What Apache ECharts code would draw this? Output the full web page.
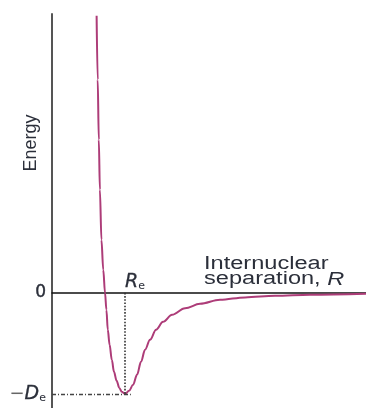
<!DOCTYPE html>
<html>
<head>
<meta charset="utf-8">
<script src="https://cdn.jsdelivr.net/npm/echarts@6/dist/echarts.min.js"></script>
<style>html,body{margin:0;padding:0;background:#fff;}#c{width:366px;height:408px;}</style>
</head>
<body>
<div id="c"></div>
<script>
// Internuclear separation (units of Re) and energy (units of De)
const separation = [0.611,0.626,0.641,0.656,0.677,0.702,0.726,0.745,0.764,0.789,0.819,0.849,0.885,0.922,0.956,1.0,1.055,1.110,1.164,1.219,1.274,1.342,1.425,1.521,1.644,1.822,2.027,2.301,2.644,3.055,3.534,4.301];
const energy = [2.743,2.109,1.515,1.020,0.525,0.228,0,-0.168,-0.366,-0.515,-0.663,-0.782,-0.871,-0.941,-0.980,-1.0,-0.970,-0.911,-0.812,-0.683,-0.564,-0.465,-0.366,-0.287,-0.218,-0.153,-0.109,-0.069,-0.045,-0.030,-0.020,-0.010];
const Re = 1.0;
const minEnergy = -1.0;
const dashEnd = 1.08;
const yTickValues = [minEnergy, 0];

const chart = echarts.init(document.getElementById('c'));
const textColor = '#2b2f3a';
chart.setOption({
  animation: false,
  grid: {left: 52, right: 0, top: 14, bottom: 0, containLabel: false},
  xAxis: {
    type: 'value', min: 0, max: 4.3,
    axisLine: {show: true, onZero: true, lineStyle: {color: '#111', width: 1.5}},
    axisTick: {show: false}, axisLabel: {show: false}, splitLine: {show: false}
  },
  yAxis: {
    type: 'value', min: -1.14, max: 2.76,
    axisLine: {show: true, lineStyle: {color: '#555', width: 2}},
    axisTick: {show: false}, splitLine: {show: false},
    axisLabel: {
      show: true, customValues: yTickValues, margin: 6,
      formatter: function (v) { return v === 0 ? '{z|0}' : '{m|\u2212}{d|D}{s|e}'; },
      rich: {
        z: {fontFamily: 'DejaVu Sans', fontSize: 17, color: textColor, textBorderColor: textColor, textBorderWidth: 0.4},
        m: {fontFamily: 'DejaVu Sans', fontSize: 18, color: '#666'},
        d: {fontFamily: 'DejaVu Sans', fontStyle: 'italic', fontSize: 19, color: textColor, textBorderColor: textColor, textBorderWidth: 0.3},
        s: {fontFamily: 'DejaVu Sans', fontSize: 11, color: textColor, padding: [9, 0, 0, 0]}
      }
    }
  },
  series: [{
    type: 'line',
    data: separation.map((x, i) => [x, energy[i]]),
    smooth: 0.35, smoothMonotone: 'x',
    showSymbol: false, symbol: 'none',
    lineStyle: {color: '#ad3c78', width: 2},
    markLine: {
      silent: true, symbol: 'none', animation: false,
      label: {show: false},
      data: [
        [{coord: [Re, 0], lineStyle: {color: '#333', type: 'dotted', width: 1.6}}, {coord: [Re, minEnergy]}],
        [{coord: [0, minEnergy], lineStyle: {color: '#444', type: [4, 2, 1, 2], width: 1.3}}, {coord: [dashEnd, minEnergy]}]
      ]
    },
    markPoint: {
      silent: true, symbol: 'circle', symbolSize: 0,
      data: [{coord: [Re, 0]}],
      label: {
        show: true, position: 'top', distance: 1, offset: [10, 0],
        formatter: '{r|R}{s|e}',
        rich: {
          r: {fontFamily: 'DejaVu Sans', fontStyle: 'italic', fontSize: 19, color: textColor, textBorderColor: textColor, textBorderWidth: 0.3},
          s: {fontFamily: 'DejaVu Sans', fontSize: 11, color: textColor, padding: [9, 0, 0, 0]}
        }
      }
    }
  }],
  graphic: [
    {
      type: 'text', x: 31, y: 143, rotation: Math.PI / 2,
      style: {text: 'Energy', font: '18px "Liberation Sans"', fill: textColor, align: 'center', verticalAlign: 'middle'}
    },
    {
      type: 'text', x: 204, y: 257, scaleX: 1.31,
      style: {
        text: '{a|Internuclear}\n{a|separation, }{i|R}',
        align: 'left', verticalAlign: 'top',
        rich: {
          a: {font: '18px "Liberation Sans"', fill: textColor, lineHeight: 15},
          i: {font: 'italic 18px "Liberation Sans"', fill: textColor, lineHeight: 15}
        }
      }
    }
  ]
});
</script>
</body>
</html>
